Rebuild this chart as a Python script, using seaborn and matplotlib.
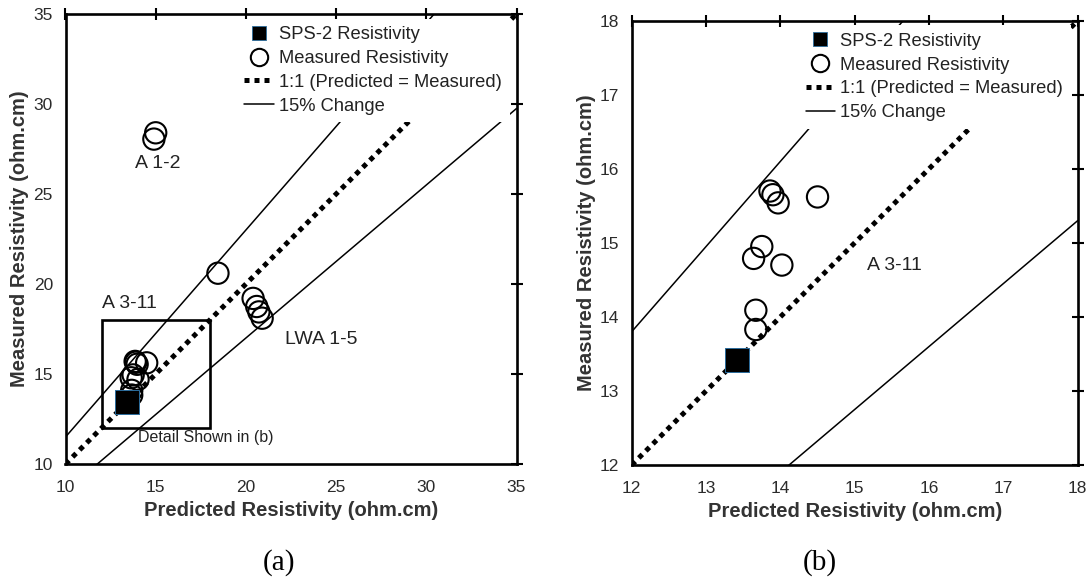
import numpy as np
import pandas as pd
import seaborn as sns
import matplotlib.pyplot as plt
from matplotlib.lines import Line2D
from matplotlib.patches import Rectangle

# Predicted vs. measured resistivity (ohm.cm)
sps2_pred = [13.42]
sps2_meas = [13.42]

a12_pred = [15.0, 14.9]
a12_meas = [28.4, 28.05]

a311_pred = [13.86, 13.90, 13.97, 14.50, 13.75, 13.64, 14.02, 13.67, 13.67]
a311_meas = [15.70, 15.65, 15.54, 15.62, 14.95, 14.79, 14.70, 14.09, 13.83]

lwa_pred = [18.45, 20.40, 20.60, 20.72, 20.90]
lwa_meas = [20.60, 19.20, 18.75, 18.45, 18.10]

band = 0.15  # +/- 15% change
legend_labels = ["SPS-2 Resistivity", "Measured Resistivity",
                 "1:1 (Predicted = Measured)", "15% Change"]

measured = pd.DataFrame({
    "predicted": a12_pred + a311_pred + lwa_pred,
    "measured": a12_meas + a311_meas + lwa_meas,
    "mix": ["A 1-2"] * len(a12_pred) + ["A 3-11"] * len(a311_pred) + ["LWA 1-5"] * len(lwa_pred),
})
sps2 = pd.DataFrame({"predicted": sps2_pred, "measured": sps2_meas})

sns.set_theme(style="white")
plt.rcParams["font.family"] = ["Liberation Sans", "DejaVu Sans"]
plt.rcParams["text.color"] = "#222222"

fig = plt.figure(figsize=(10.89, 5.77), dpi=100)
ax1 = fig.add_axes([65.5 / 1089, 1 - 464 / 577, 451 / 1089, 450 / 577])
ax2 = fig.add_axes([631.7 / 1089, 1 - 465 / 577, 446 / 1089, 444.3 / 577])

DOT = (0, (1, 1))


def draw_panel(ax, lo, hi, ticks):
    xs = np.array([lo, hi])
    ax.plot(xs, xs, color="black", lw=3.6, linestyle=DOT,
            dash_capstyle="butt", zorder=2)
    ax.plot(xs, (1 + band) * xs, color="black", lw=1.1, zorder=2)
    ax.plot(xs, (1 - band) * xs, color="black", lw=1.1, zorder=2)

    sns.scatterplot(data=measured, x="predicted", y="measured", marker="o",
                    s=235, facecolors="none", edgecolor="black", linewidth=1.5,
                    legend=False, zorder=3, ax=ax)
    sns.scatterplot(data=sps2, x="predicted", y="measured", marker="s",
                    s=300, color="black", edgecolor="#2b6c9c", linewidth=0.7,
                    legend=False, zorder=4, ax=ax)

    ax.set_xlim(lo, hi)
    ax.set_ylim(lo, hi)
    ax.set_xticks(ticks)
    ax.set_yticks(ticks)
    ax.tick_params(direction="inout", length=9, width=1.5, color="black",
                   top=True, right=True, labeltop=False, labelright=False,
                   labelsize=12.5, labelcolor="#2b2b2b")
    ax.tick_params(axis="x", pad=7)
    ax.tick_params(axis="y", pad=4.5)
    for sp in ax.spines.values():
        sp.set_visible(True)
        sp.set_color("black")
        sp.set_linewidth(1.9)

    ax.set_xlabel("Predicted Resistivity (ohm.cm)", fontsize=14.5,
                  fontweight="bold", color="#333333", labelpad=4)
    ax.set_ylabel("Measured Resistivity (ohm.cm)", fontsize=14.5,
                  fontweight="bold", color="#333333", labelpad=3)

    handles = [
        Line2D([], [], marker="s", ls="none", mfc="black", mec="#2b6c9c",
               ms=10, mew=0.6),
        Line2D([], [], marker="o", ls="none", mfc="none", mec="black",
               ms=12.5, mew=1.5),
        Line2D([], [], color="black", lw=3.6, ls=DOT, dash_capstyle="butt"),
        Line2D([], [], color="black", lw=1.1),
    ]
    leg = ax.legend(handles, legend_labels, loc="upper right",
                    bbox_to_anchor=(0.985, 0.99), frameon=True,
                    fancybox=False, edgecolor="none", facecolor="white",
                    framealpha=1, fontsize=13.2, handlelength=1.6,
                    handletextpad=0.3, labelspacing=0.37, borderpad=0.42,
                    borderaxespad=0)
    leg.set_zorder(5)


draw_panel(ax1, 10, 35, [10, 15, 20, 25, 30, 35])
draw_panel(ax2, 12, 18, [12, 13, 14, 15, 16, 17, 18])

# Zoom window shown in the right-hand panel
ax1.add_patch(Rectangle((12, 12), 6, 6, fill=False, edgecolor="black",
                        lw=1.9, zorder=3))
ax1.text(15.13, 26.7, "A 1-2", ha="center", va="center", fontsize=14)
ax1.text(12.05, 18.9, "A 3-11", ha="left", va="center", fontsize=14)
ax1.text(24.15, 16.9, "LWA 1-5", ha="center", va="center", fontsize=14)
ax1.text(17.8, 11.48, "Detail Shown in (b)", ha="center", va="center",
         fontsize=11.5)
ax2.text(15.53, 14.69, "A 3-11", ha="center", va="center", fontsize=14)

fig.text(279 / 1089, 1 - 563 / 577, "(a)", ha="center", va="center",
         fontsize=21, family="Liberation Serif", color="black")
fig.text(820 / 1089, 1 - 563 / 577, "(b)", ha="center", va="center",
         fontsize=21, family="Liberation Serif", color="black")

fig.savefig("out.png", dpi=100, facecolor="white")
